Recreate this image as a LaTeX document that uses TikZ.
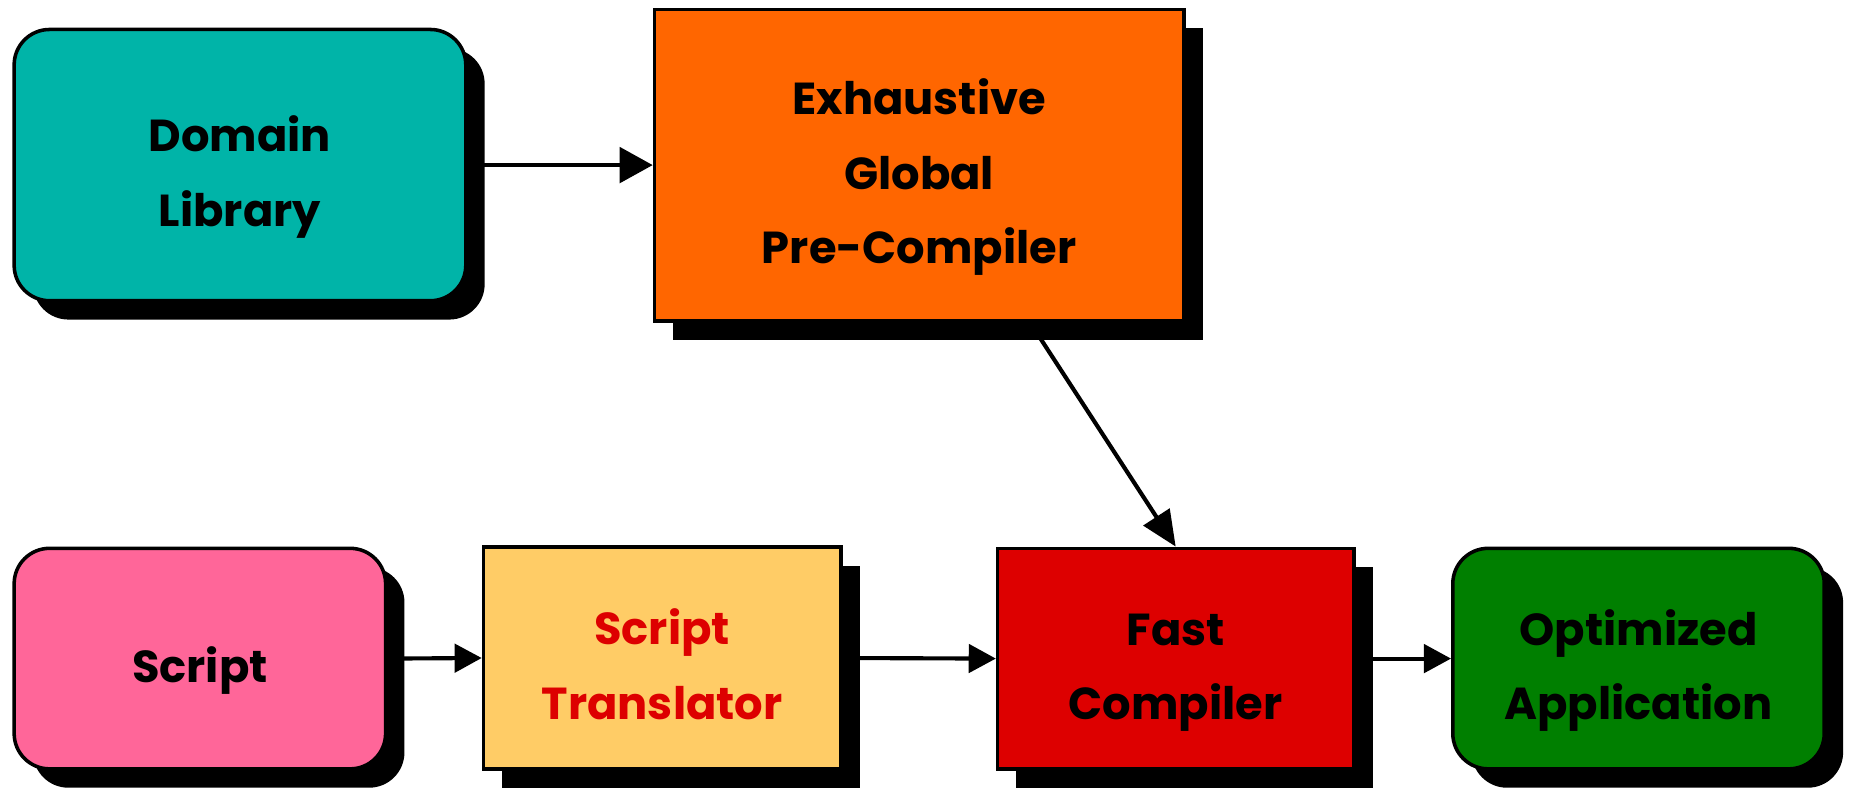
\documentclass[tikz,border=0pt]{standalone}
\usepackage{fontspec}
\setmainfont{Poppins}
\usetikzlibrary{arrows.meta,shadows,calc}
\definecolor{cteal}{HTML}{00B4A8}
\definecolor{corange}{HTML}{FF6600}
\definecolor{cpink}{HTML}{FF6699}
\definecolor{cgold}{HTML}{FFCC66}
\definecolor{cred}{HTML}{DD0000}
\definecolor{cgreen}{HTML}{007F00}
\newcommand\boxtext[1]{\raisebox{-14pt}[0pt][0pt]{\begin{tabular}{@{}c@{}}#1\end{tabular}}}
\tikzset{
  box/.style={draw=black, line width=3pt, inner sep=0pt,
    font=\fontsize{38}{63}\selectfont\bfseries,
    general shadow={fill=black, shadow xshift=16pt, shadow yshift=-16pt}},
  rbox/.style={box, rounded corners=30pt},
  conn/.style={line width=3.5pt, draw=black},
  bighead/.style={-{Triangle[length=28pt,width=30pt]}},
  smallhead/.style={-{Triangle[length=23pt,width=24pt]}}
}
\begin{document}
\begin{tikzpicture}[x=1pt,y=1pt]
\useasboundingbox (0,0) rectangle (1568,-670.8);
\node[rbox, fill=cteal, minimum width=383pt, minimum height=230pt] (dl) at (203.5,-140) {\boxtext{Domain\\Library}};
\node[box, fill=corange, minimum width=449pt, minimum height=264pt] (pre) at (779.5,-140) {\boxtext{Exhaustive\\Global\\Pre-Compiler}};
\node[rbox, fill=cpink, minimum width=315pt, minimum height=187pt] (sc) at (169.5,-558.5) {\boxtext{Script}};
\node[box, fill=cgold, text=cred, minimum width=303pt, minimum height=188pt] (st) at (561.5,-558) {\boxtext{Script\\Translator}};
\node[box, fill=cred, minimum width=302pt, minimum height=187pt] (fc) at (997,-558.5) {\boxtext{Fast\\Compiler}};
\node[rbox, fill=cgreen, minimum width=315pt, minimum height=187pt] (oa) at (1389.5,-558.5) {\boxtext{Optimized\\Application}};
\draw[conn, bighead] (dl.east) -- (pre.west);
\draw[conn, -{Triangle[length=30pt,width=26pt]}] ($(pre.south)+(94,0)$) -- (fc.north);
\draw[conn, smallhead] (sc.east) -- (st.west);
\draw[conn, smallhead] (st.east) -- (fc.west);
\draw[conn, smallhead] (fc.east) -- (oa.west);
\end{tikzpicture}
\end{document}
